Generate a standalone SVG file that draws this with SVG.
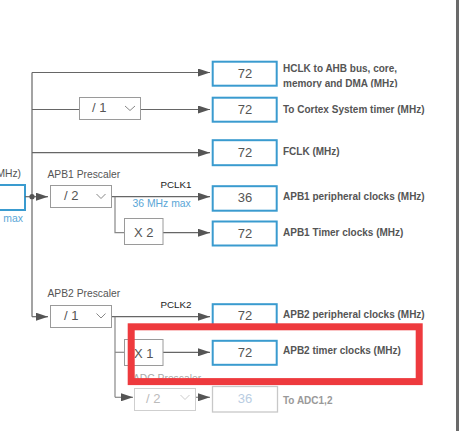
<svg xmlns="http://www.w3.org/2000/svg" width="461" height="433" viewBox="0 0 461 433">
<style>
  text { font-family: "Liberation Sans", Arial, sans-serif; }
  .line { stroke: #666; stroke-width: 1.2; fill: none; }
  .lineg { stroke: #888; stroke-width: 1.2; fill: none; }
  .out { fill: #fff; stroke: #3a9bcf; stroke-width: 2; }
  .outd { fill: #fff; stroke: #c8c8c8; stroke-width: 1.3; }
  .pre { fill: #fff; stroke: #9a9a9a; stroke-width: 1; }
  .pred { fill: #fff; stroke: #cfcfcf; stroke-width: 1; }
  .val { font-size: 13px; fill: #555; text-anchor: middle; }
  .vald { font-size: 13px; fill: #b9cde2; text-anchor: middle; }
  .lbl { font-size: 10px; font-weight: bold; fill: #555; }
  .lbld { font-size: 10px; font-weight: bold; fill: #999; }
  .cap { font-size: 10.3px; fill: #555; }
  .capd { font-size: 10.3px; fill: #aaa; }
  .pclk { font-size: 9.8px; fill: #222; }
  .blue { font-size: 10.4px; fill: #5aa6d6; }
  .ptxt { font-size: 13px; fill: #555; }
  .ptxtd { font-size: 13px; fill: #bbb; }
  .chev { stroke: #888; stroke-width: 1; fill: none; }
  .chevd { stroke: #ccc; stroke-width: 1; fill: none; }
</style>
<defs>
  <marker id="arr" markerUnits="userSpaceOnUse" markerWidth="12" markerHeight="8" refX="12" refY="4" orient="auto">
    <path d="M0,0 L12,4 L0,8 z" fill="#555"/>
  </marker>
  <clipPath id="clipMem"><rect x="280" y="60" width="170" height="27.5"/></clipPath>
</defs>
<rect width="461" height="433" fill="#fff"/>

<!-- partial source node at left -->
<g id="source">
  <rect x="-10" y="185" width="35" height="25" class="out"/>
  <text x="21" y="177" class="cap" text-anchor="end">MHz)</text>
  <text x="23" y="222" class="blue" text-anchor="end">max</text>
</g>

<!-- connectors -->
<g id="connectors">
  <path class="line" d="M32,72.5 V316.7"/>
  <path class="line" d="M32,72.5 H210" marker-end="url(#arr)"/>
  <path class="line" d="M32,109.5 H79"/>
  <path class="line" d="M140,109.5 H210" marker-end="url(#arr)"/>
  <path class="line" d="M32,152.7 H210" marker-end="url(#arr)"/>
  <path class="line" d="M25,196.7 H48" marker-end="url(#arr)"/>
  <circle cx="32" cy="196.7" r="2.6" fill="#555"/>
  <path class="line" d="M112,196.7 H210" marker-end="url(#arr)"/>
  <path class="lineg" d="M115,196.7 V232.7 H124"/>
  <path class="line" d="M163,232.7 H210" marker-end="url(#arr)"/>
  <path class="line" d="M32,316.7 H48" marker-end="url(#arr)"/>
  <path class="line" d="M112,316.7 H210" marker-end="url(#arr)"/>
  <path class="lineg" d="M115,316.7 V397.3"/>
  <path class="lineg" d="M115,352.3 H124"/>
  <path class="line" d="M163,352.3 H210" marker-end="url(#arr)"/>
  <path class="lineg" d="M115,397.3 H133" marker-end="url(#arr)"/>
  <path class="lineg" d="M196,397.3 H210" marker-end="url(#arr)"/>
</g>

<!-- prescalers -->
<g id="ahb-cortex-div">
  <rect x="79.5" y="97.5" width="61" height="22" class="pre"/>
  <text x="92" y="112" class="ptxt">/ 1</text>
  <path class="chev" d="M125,106 L130,110.5 L135,106"/>
</g>
<g id="apb1-prescaler">
  <text x="47.5" y="177.5" class="cap">APB1 Prescaler</text>
  <rect x="50.5" y="185.5" width="61" height="22" class="pre"/>
  <text x="64" y="200" class="ptxt">/ 2</text>
  <path class="chev" d="M96.5,194 L101,198.5 L105.5,194"/>
  <text x="160.5" y="188" class="pclk">PCLK1</text>
  <text x="132.5" y="207" class="blue">36 MHz max</text>
</g>
<g id="apb1-x2">
  <rect x="124.5" y="218.5" width="38.5" height="26" class="pre"/>
  <text x="134" y="236.5" class="ptxt">X 2</text>
</g>
<g id="apb2-prescaler">
  <text x="47.5" y="297" class="cap">APB2 Prescaler</text>
  <rect x="50.5" y="305.5" width="61" height="22" class="pre"/>
  <text x="64" y="320" class="ptxt">/ 1</text>
  <path class="chev" d="M96.5,313.5 L101,318 L105.5,313.5"/>
  <text x="160.5" y="308" class="pclk">PCLK2</text>
</g>
<g id="apb2-x1">
  <rect x="124.5" y="339.5" width="38.5" height="26" class="pre"/>
  <text x="134" y="357.5" class="ptxt">X 1</text>
</g>
<g id="adc-prescaler">
  <text x="133" y="382" class="capd">ADC Prescaler</text>
  <rect x="134.5" y="388.5" width="61" height="22" class="pred"/>
  <text x="146" y="403" class="ptxtd">/ 2</text>
  <path class="chevd" d="M180.5,395 L185,399.5 L189.5,395"/>
</g>

<!-- outputs -->
<g id="hclk">
  <rect x="212.7" y="61.7" width="64" height="24" class="out"/>
  <text x="245" y="78" class="val">72</text>
  <text x="283" y="72" class="lbl">HCLK to AHB bus, core,</text>
  <text x="283" y="86.5" class="lbl" clip-path="url(#clipMem)">memory and DMA (MHz)</text>
</g>
<g id="cortex">
  <rect x="212.7" y="97.7" width="64" height="24" class="out"/>
  <text x="245" y="114.3" class="val">72</text>
  <text x="283" y="113" class="lbl">To Cortex System timer (MHz)</text>
</g>
<g id="fclk">
  <rect x="212.7" y="140.2" width="64" height="25" class="out"/>
  <text x="245" y="157.3" class="val">72</text>
  <text x="283" y="154.5" class="lbl">FCLK (MHz)</text>
</g>
<g id="apb1-periph">
  <rect x="212.7" y="186.2" width="64" height="24.5" class="out"/>
  <text x="245" y="202" class="val">36</text>
  <text x="283" y="199.5" class="lbl">APB1 peripheral clocks (MHz)</text>
</g>
<g id="apb1-timer">
  <rect x="212.7" y="221.5" width="64" height="24" class="out"/>
  <text x="245" y="237.5" class="val">72</text>
  <text x="283" y="236" class="lbl">APB1 Timer clocks (MHz)</text>
</g>
<g id="apb2-periph">
  <rect x="212.7" y="304.2" width="64" height="24" class="out"/>
  <text x="245" y="320.3" class="val">72</text>
  <text x="283" y="318" class="lbl">APB2 peripheral clocks (MHz)</text>
</g>
<g id="apb2-timer">
  <rect x="212.7" y="340.8" width="64" height="24" class="out"/>
  <text x="245" y="356.5" class="val">72</text>
  <text x="283" y="353.5" class="lbl">APB2 timer clocks (MHz)</text>
</g>
<g id="adc">
  <rect x="212.5" y="386.5" width="65" height="25.5" class="outd"/>
  <text x="245" y="402.5" class="vald">36</text>
  <text x="283" y="403.5" class="lbld">To ADC1,2</text>
</g>

<!-- highlight -->
<rect id="highlight" x="131.2" y="326.8" width="288" height="54.8" fill="none" stroke="#ee3a3e" stroke-width="7"/>

<!-- right edge -->
<rect x="456" y="0" width="3" height="431" fill="#6a6a6a"/>
</svg>
